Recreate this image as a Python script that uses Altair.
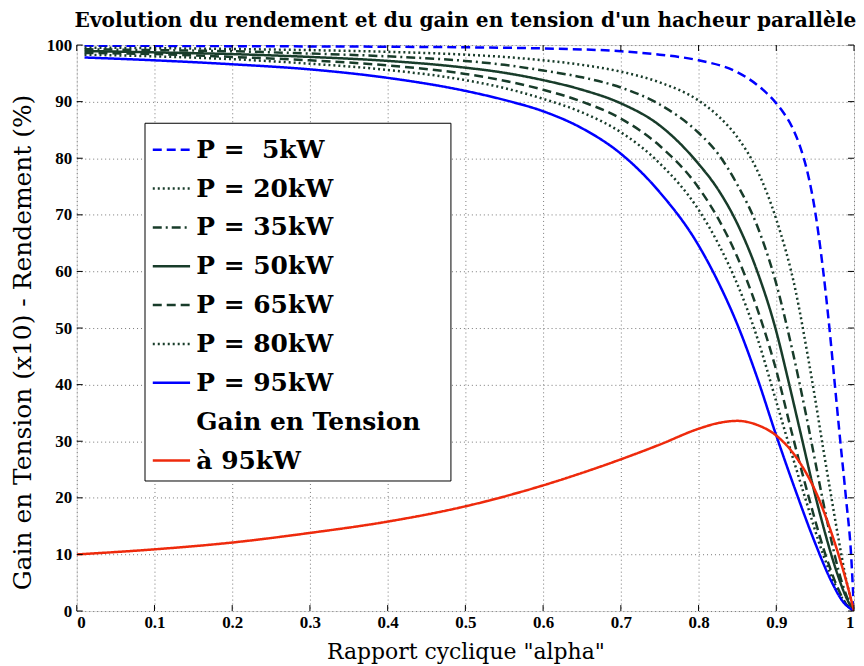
import altair as alt
import pandas as pd

# ---------------- data ----------------
series_names = ["P =\u00a0\u00a05kW", "P = 20kW", "P = 35kW", "P = 50kW",
                "P = 65kW", "P = 80kW", "P = 95kW",
                "Gain en Tension\u00a0\u00a0\u2009\u200b", "\u00a0à 95kW"]

alpha_5 = [0.01, 0.2, 0.4, 0.5, 0.6, 0.7, 0.75, 0.8, 0.85, 0.875, 0.9, 0.91, 0.92, 0.93, 0.94, 0.95, 0.96, 0.968, 0.975, 0.982, 0.99, 0.996, 1.0]
val_5 = [99.9, 99.8, 99.7, 99.6, 99.4, 98.9, 98.3, 97.3, 95.2, 93.0, 89.7, 87.9, 85.6, 82.3, 77.6, 70.6, 60.5, 50.5, 40.5, 30.5, 19.5, 10.5, 0.0]

alpha_20 = [0.01, 0.1, 0.2, 0.3, 0.4, 0.5, 0.55, 0.6, 0.65, 0.7, 0.75, 0.8, 0.825, 0.85, 0.875, 0.9, 0.925, 0.94, 0.95, 0.96, 0.97, 0.98, 0.99, 1.0]
val_20 = [99.55, 99.45, 99.3, 99.1, 98.8, 98.3, 97.9, 97.3, 96.5, 95.3, 93.4, 90.2, 87.5, 83.7, 78.0, 69.2, 56.5, 45.5, 37.5, 29.0, 20.8, 12.8, 5.5, 0.0]

alpha_35 = [0.01, 0.1, 0.2, 0.3, 0.4, 0.5, 0.55, 0.6, 0.65, 0.7, 0.75, 0.8, 0.825, 0.85, 0.875, 0.9, 0.92, 0.94, 0.95, 0.96, 0.97, 0.98, 0.99, 1.0]
val_35 = [99.25, 99.1, 98.9, 98.5, 98.0, 97.2, 96.5, 95.5, 94.3, 92.5, 89.5, 84.5, 80.8, 75.3, 68.2, 57.8, 46.5, 33.5, 26.5, 19.5, 13.0, 7.2, 2.8, 0.0]

alpha_50 = [0.01, 0.1, 0.2, 0.3, 0.4, 0.5, 0.55, 0.6, 0.65, 0.7, 0.75, 0.8, 0.825, 0.85, 0.875, 0.9, 0.915, 0.93, 0.95, 0.96, 0.97, 0.98, 0.99, 1.0]
val_50 = [98.95, 98.7, 98.4, 97.9, 97.2, 96.0, 95.1, 93.8, 92.1, 89.7, 85.8, 79.0, 74.5, 68.4, 60.2, 49.4, 41.0, 32.2, 20.5, 15.2, 10.3, 6.0, 2.4, 0.0]

alpha_65 = [0.01, 0.1, 0.2, 0.3, 0.4, 0.5, 0.55, 0.6, 0.65, 0.7, 0.75, 0.8, 0.825, 0.85, 0.875, 0.9, 0.92, 0.942, 0.962, 0.98, 0.99, 1.0]
val_65 = [98.6, 98.4, 97.9, 97.3, 96.4, 94.9, 93.7, 92.1, 90.0, 87.0, 82.2, 74.8, 69.4, 62.5, 53.6, 42.5, 31.5, 20.0, 10.5, 3.8, 1.2, 0.0]

alpha_80 = [0.01, 0.1, 0.2, 0.3, 0.4, 0.5, 0.55, 0.6, 0.65, 0.7, 0.75, 0.8, 0.825, 0.85, 0.875, 0.9, 0.91, 0.936, 0.959, 0.978, 0.99, 1.0]
val_80 = [98.3, 98.0, 97.5, 96.7, 95.6, 93.8, 92.4, 90.5, 88.1, 84.6, 79.1, 70.9, 65.0, 57.7, 48.5, 37.0, 32.3, 20.5, 10.5, 4.0, 1.2, 0.0]

alpha_95 = [0.01, 0.1, 0.2, 0.3, 0.4, 0.5, 0.55, 0.6, 0.65, 0.7, 0.75, 0.8, 0.825, 0.85, 0.875, 0.9, 0.925, 0.95, 0.97, 0.985, 1.0]
val_95 = [97.8, 97.3, 96.6, 95.7, 94.2, 91.9, 90.3, 88.3, 85.3, 80.8, 74.0, 64.6, 58.2, 50.6, 41.4, 31.0, 21.2, 12.0, 5.5, 1.8, 0.0]

alpha_gain = [0.0, 0.1, 0.2, 0.3, 0.4, 0.5, 0.6, 0.65, 0.7, 0.75, 0.8, 0.825, 0.85, 0.875, 0.9, 0.92, 0.94, 0.95, 0.96, 0.97, 0.98, 0.99, 1.0]
val_gain = [10.0, 10.9, 12.1, 13.8, 15.8, 18.5, 22.2, 24.4, 26.8, 29.4, 32.2, 33.2, 33.6, 32.9, 31.0, 28.2, 24.0, 21.3, 18.0, 14.2, 10.0, 5.3, 0.0]

x_ticks = [0, 0.1, 0.2, 0.3, 0.4, 0.5, 0.6, 0.7, 0.8, 0.9, 1]
y_ticks = [0, 10, 20, 30, 40, 50, 60, 70, 80, 90, 100]

green = "#183c2a"
colors = ["#0000ff", green, green, green, green, green, "#0000ff", "rgba(0,0,0,0)", "#ee2a0c"]
dashes = [[9, 5], [2, 3], [9, 4, 2, 4], [1, 0], [9, 5], [2, 3], [1, 0], [1, 0], [1, 0]]

alphas = [alpha_5, alpha_20, alpha_35, alpha_50, alpha_65, alpha_80, alpha_95, alpha_gain]
values = [val_5, val_20, val_35, val_50, val_65, val_80, val_95, val_gain]
data_names = series_names[:7] + [series_names[8]]

rows = []
for name, xs, ys in zip(data_names, alphas, values):
    for a, v in zip(xs, ys):
        rows.append({"serie": name, "alpha": a, "val": v})
df = pd.DataFrame(rows)
xt_df = pd.DataFrame({"alpha": x_ticks})
yt_df = pd.DataFrame({"val": y_ticks})

W, H = 780, 568
TICK = 6

legend = alt.Legend(
    orient="none", legendX=68, legendY=78, title=None,
    strokeColor="black", fillColor="white", padding=7,
    labelFont="DejaVu Serif", labelFontSize=25, labelFontWeight="bold",
    labelColor="black", labelLimit=500,
    symbolType="stroke", symbolSize=1400, symbolStrokeWidth=2.5,
    rowPadding=6, labelOffset=5, cornerRadius=0,
)

tick_font = "Liberation Serif"
x_scale = alt.Scale(domain=[0, 1], nice=False, zero=False)
y_scale = alt.Scale(domain=[0, 100], nice=False)

lines = alt.Chart(df).mark_line(strokeWidth=2.5, interpolate="monotone", clip=True).encode(
    x=alt.X("alpha:Q", scale=x_scale,
            axis=alt.Axis(values=x_ticks, format="~g", title='Rapport cyclique "alpha"',
                          titleFont="DejaVu Serif", titleFontSize=22, titleFontWeight="normal",
                          titleColor="black", titlePadding=11,
                          labelFont=tick_font, labelFontSize=17, labelFontWeight="bold",
                          labelColor="black", labelPadding=4, ticks=False, domain=False,
                          grid=True, gridDash=[1, 3], gridColor="#777777", gridWidth=1)),
    y=alt.Y("val:Q", scale=y_scale,
            axis=alt.Axis(values=y_ticks, title="Gain en Tension (x10) - Rendement (%)",
                          titleFont="DejaVu Serif", titleFontSize=25, titleFontWeight="normal",
                          titleColor="black", titleX=-41, titleY=298, titleAngle=270,
                          titleAlign="center", titleBaseline="bottom",
                          labelFont=tick_font, labelFontSize=17, labelFontWeight="bold",
                          labelColor="black", labelPadding=5, ticks=False, domain=False,
                          grid=True, gridDash=[1, 3], gridColor="#777777", gridWidth=1)),
    color=alt.Color("serie:N", scale=alt.Scale(domain=series_names, range=colors), legend=legend),
    strokeDash=alt.StrokeDash("serie:N", scale=alt.Scale(domain=series_names, range=dashes), legend=legend),
)

# inner tick marks (MATLAB style box ticks)
x_ticks_bottom = alt.Chart(xt_df).mark_rule(color="black", strokeWidth=1).encode(
    x=alt.X("alpha:Q", scale=x_scale), y=alt.value(H), y2=alt.value(H - TICK))
x_ticks_top = alt.Chart(xt_df).mark_rule(color="black", strokeWidth=1).encode(
    x=alt.X("alpha:Q", scale=x_scale), y=alt.value(0), y2=alt.value(TICK))
y_ticks_left = alt.Chart(yt_df).mark_rule(color="black", strokeWidth=1).encode(
    y=alt.Y("val:Q", scale=y_scale), x=alt.value(0), x2=alt.value(TICK))
y_ticks_right = alt.Chart(yt_df).mark_rule(color="black", strokeWidth=1).encode(
    y=alt.Y("val:Q", scale=y_scale), x=alt.value(W), x2=alt.value(W - TICK))

chart = alt.layer(lines, x_ticks_bottom, x_ticks_top, y_ticks_left, y_ticks_right).properties(
    width=W, height=H,
    title=alt.TitleParams("Evolution du rendement et du gain en tension d'un hacheur parallèle",
                          font="DejaVu Serif", fontSize=20.2, fontWeight="bold", color="black",
                          anchor="middle", offset=5),
    autosize=alt.AutoSizeParams(type="none"),
    padding={"left": 69, "top": 36, "right": 2, "bottom": 56},
).configure_view(stroke="black", strokeWidth=1.5).configure(background="white")

chart.save("out.html", embed_options={"renderer": "svg", "actions": False})
